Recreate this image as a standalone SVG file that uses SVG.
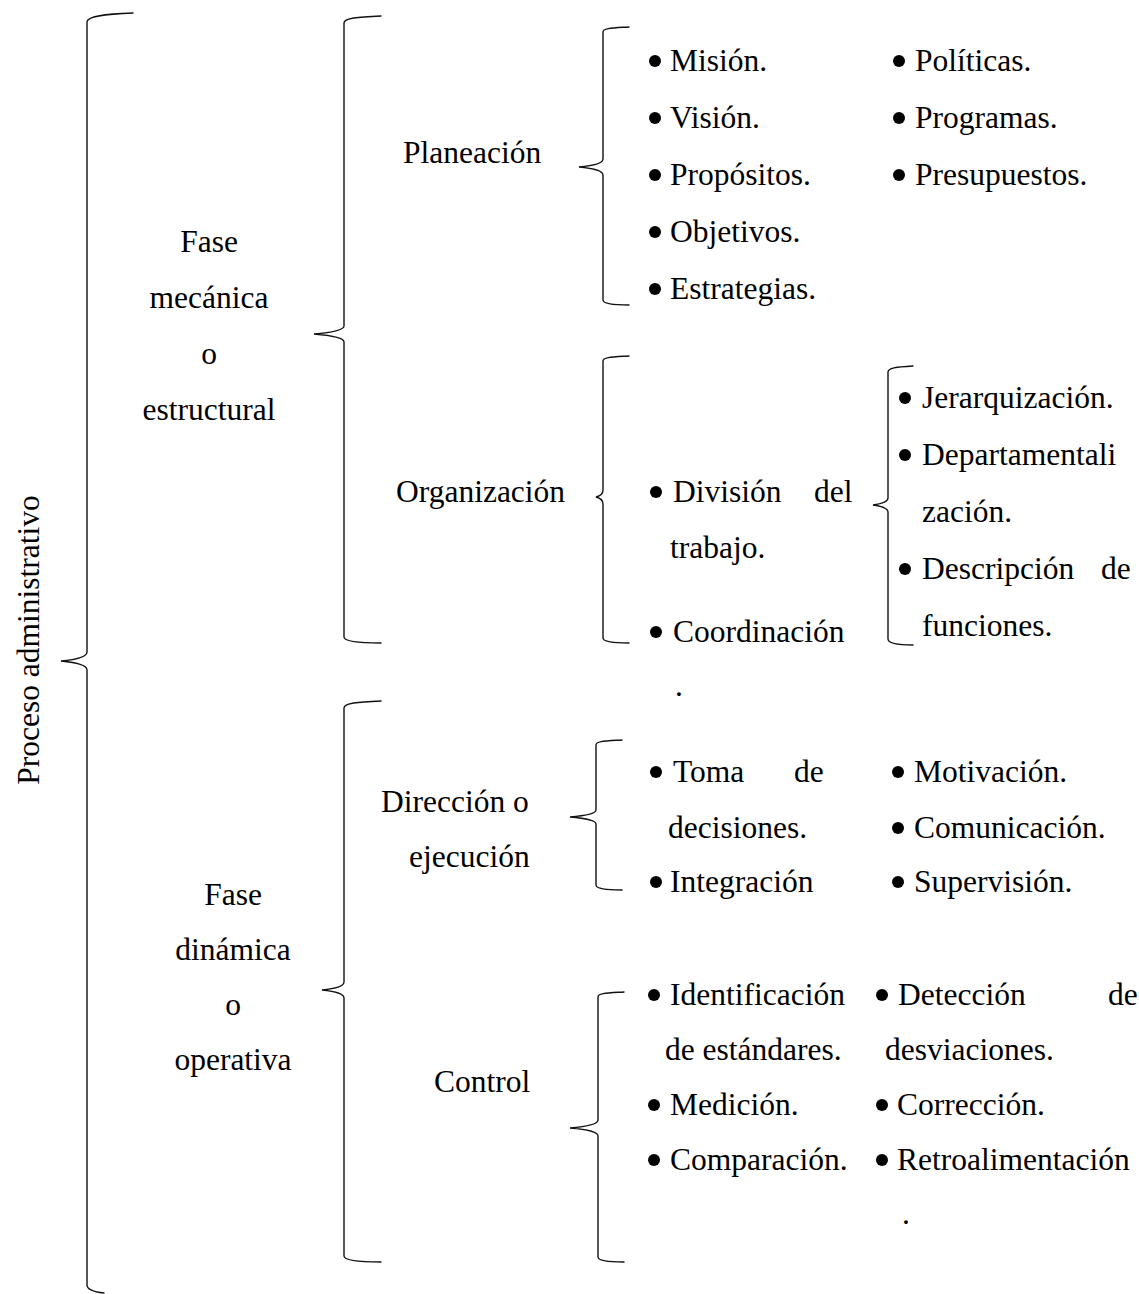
<svg xmlns="http://www.w3.org/2000/svg" width="1139" height="1294" viewBox="0 0 1139 1294">
  <style>
    text { font-family: "Liberation Serif", "Times New Roman", serif; font-size: 31.5px; fill: #000; }
    .mid { text-anchor: middle; }
    .brace { fill: none; stroke: #111; stroke-width: 1.4; stroke-linecap: round; }
    .dot { fill: #000; }
  </style>
  <defs>
    <circle id="b" r="6" class="dot"/>
  </defs>
  <rect width="1139" height="1294" fill="#fff"/>

  <!-- braces -->
  <g id="connectors">
    <path class="brace" d="M133,13 C105,14 87,16 87,22 L87,652 C87,658 72,660 61,661 C72,662 87,664 87,670 L87,1285 C87,1290 95,1292 104,1293"/>
    <path class="brace" d="M381,16 C358,17 344,18 344,23 L344,326 C344,331 326,333 314,334 C326,335 344,337 344,342 L344,637 C344,641 358,643 381,643"/>
    <path class="brace" d="M381,701 C358,702 344,703 344,708 L344,982 C344,987 332,989 322,990 C332,991 344,993 344,998 L344,1256 C344,1260 358,1262 381,1262"/>
    <path class="brace" d="M629,27 C612,28 603,28 603,32 L603,159 C603,164 590,166 579,167 C590,168 603,170 603,175 L603,300 C603,303 612,305 629,305"/>
    <path class="brace" d="M629,356 C612,357 603,357 603,361 L603,490 C603,494 600,496 596,497 C600,498 603,500 603,504 L603,638 C603,641 612,643 629,643"/>
    <path class="brace" d="M913,366 C896,367 888,368 888,372 L888,498 C888,502 880,504 873,505 C880,506 888,508 888,512 L888,639 C888,643 896,645 913,645"/>
    <path class="brace" d="M622,740 C605,741 596,741 596,745 L596,810 C596,814 582,816 570,817 C582,818 596,820 596,824 L596,885 C596,888 605,890 622,890"/>
    <path class="brace" d="M624,992 C607,993 598,993 598,997 L598,1120 C598,1125 582,1127 570,1128 C582,1129 598,1131 598,1136 L598,1257 C598,1260 607,1262 624,1262"/>
  </g>

  <!-- root -->
  <g id="proceso">
    <text class="mid" transform="translate(39,640) rotate(-90)">Proceso administrativo</text>
  </g>

  <!-- phases -->
  <g id="fase-mecanica">
    <text class="mid" x="209" y="252">Fase</text>
    <text class="mid" x="209" y="308">mecánica</text>
    <text class="mid" x="209" y="364">o</text>
    <text class="mid" x="209" y="420">estructural</text>
  </g>
  <g id="fase-dinamica">
    <text class="mid" x="233" y="905">Fase</text>
    <text class="mid" x="233" y="960">dinámica</text>
    <text class="mid" x="233" y="1015">o</text>
    <text class="mid" x="233" y="1070">operativa</text>
  </g>

  <!-- stages -->
  <g id="planeacion"><text x="403" y="163">Planeación</text></g>
  <g id="organizacion"><text x="396" y="502">Organización</text></g>
  <g id="direccion">
    <text x="381" y="812">Dirección o</text>
    <text x="409" y="867">ejecución</text>
  </g>
  <g id="control"><text x="434" y="1092">Control</text></g>

  <!-- planeación items -->
  <g id="planeacion-items">
    <use href="#b" x="655" y="61"/><text x="670" y="71">Misión.</text>
    <use href="#b" x="655" y="118"/><text x="670" y="128">Visión.</text>
    <use href="#b" x="655" y="175"/><text x="670" y="185">Propósitos.</text>
    <use href="#b" x="655" y="232"/><text x="670" y="242">Objetivos.</text>
    <use href="#b" x="655" y="289"/><text x="670" y="299">Estrategias.</text>
    <use href="#b" x="899" y="61"/><text x="915" y="71">Políticas.</text>
    <use href="#b" x="899" y="118"/><text x="915" y="128">Programas.</text>
    <use href="#b" x="899" y="175"/><text x="915" y="185">Presupuestos.</text>
  </g>

  <!-- organización items -->
  <g id="organizacion-items">
    <use href="#b" x="656" y="492"/><text y="502"><tspan x="673">División</tspan><tspan x="814">del</tspan></text>
    <text x="670" y="558">trabajo.</text>
    <use href="#b" x="656" y="632"/><text x="673" y="642">Coordinación</text>
    <text x="675" y="696">.</text>
  </g>
  <g id="organizacion-subitems">
    <use href="#b" x="905" y="398"/><text x="922" y="408">Jerarquización.</text>
    <use href="#b" x="905" y="455"/><text x="922" y="465">Departamentali</text>
    <text x="922" y="522">zación.</text>
    <use href="#b" x="905" y="569"/><text y="579"><tspan x="922">Descripción</tspan><tspan x="1101">de</tspan></text>
    <text x="922" y="636">funciones.</text>
  </g>

  <!-- dirección items -->
  <g id="direccion-items">
    <use href="#b" x="656" y="772"/><text y="782"><tspan x="673">Toma</tspan><tspan x="794">de</tspan></text>
    <text x="668" y="838">decisiones.</text>
    <use href="#b" x="656" y="882"/><text x="670" y="892">Integración</text>
    <use href="#b" x="898" y="772"/><text x="914" y="782">Motivación.</text>
    <use href="#b" x="898" y="828"/><text x="914" y="838">Comunicación.</text>
    <use href="#b" x="898" y="882"/><text x="914" y="892">Supervisión.</text>
  </g>

  <!-- control items -->
  <g id="control-items">
    <use href="#b" x="654" y="995"/><text x="670" y="1005">Identificación</text>
    <text x="665" y="1060">de estándares.</text>
    <use href="#b" x="654" y="1105"/><text x="670" y="1115">Medición.</text>
    <use href="#b" x="654" y="1160"/><text x="670" y="1170">Comparación.</text>
    <use href="#b" x="882" y="995"/><text y="1005"><tspan x="898">Detección</tspan><tspan x="1108">de</tspan></text>
    <text x="885" y="1060">desviaciones.</text>
    <use href="#b" x="882" y="1105"/><text x="897" y="1115">Corrección.</text>
    <use href="#b" x="882" y="1160"/><text x="897" y="1170">Retroalimentación</text>
    <text x="902" y="1224">.</text>
  </g>
</svg>
